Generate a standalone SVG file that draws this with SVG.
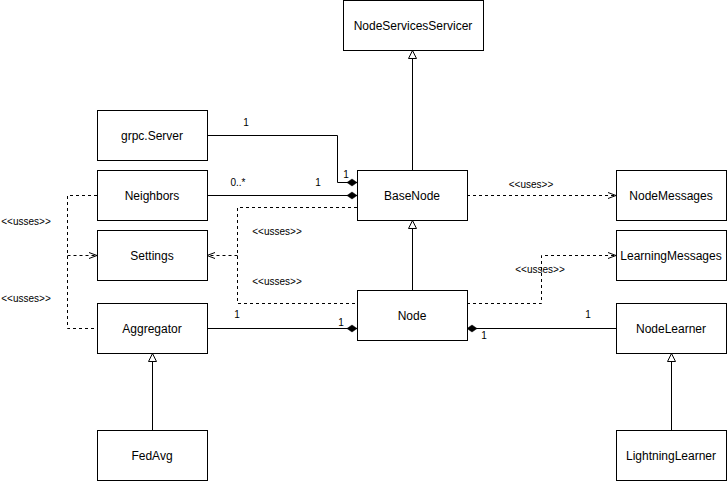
<svg xmlns="http://www.w3.org/2000/svg" width="727" height="481" viewBox="0 0 727 481">
<style>
.box{fill:#fff;stroke:#000;stroke-width:1}
.t{font-family:"Liberation Sans",Arial,sans-serif;font-size:12px;fill:#000;text-anchor:middle}
.l{font-family:"Liberation Sans",Arial,sans-serif;font-size:10px;fill:#000;text-anchor:middle}
.c{fill:none;stroke:#000;stroke-width:1}
.d{fill:none;stroke:#000;stroke-width:1;stroke-dasharray:3 3}
</style>
<defs>
<marker id="dia" viewBox="0 0 10 7" refX="10" refY="3.5" markerWidth="10" markerHeight="7" markerUnits="userSpaceOnUse" orient="auto" overflow="visible"><path d="M0,3.5 L5,0 L10,3.5 L5,7 Z" fill="#000" stroke="#000" stroke-width="0.5"/></marker>
<marker id="tri" viewBox="0 0 8 8" refX="8" refY="4" markerWidth="8" markerHeight="8" markerUnits="userSpaceOnUse" orient="auto" overflow="visible"><path d="M0,0 L8,4 L0,8 Z" fill="#fff" stroke="#000" stroke-width="1"/></marker>
<marker id="opn" viewBox="0 0 8 8" refX="8" refY="4" markerWidth="8" markerHeight="8" markerUnits="userSpaceOnUse" orient="auto" overflow="visible"><path d="M0,1 L8,4 L0,7" fill="none" stroke="#000" stroke-width="1"/></marker>
</defs>
<rect width="727" height="481" fill="#fff"/>
<g id="connectors">
<path class="c" d="M412.5,170 V50.5" marker-end="url(#tri)"/>
<path class="c" d="M412.5,290 V220.5" marker-end="url(#tri)"/>
<path class="c" d="M152.5,430 V353.5" marker-end="url(#tri)"/>
<path class="c" d="M671.5,430 V353.5" marker-end="url(#tri)"/>
<path class="c" d="M207,135.5 H337.5 V182.5 H357" marker-end="url(#dia)"/>
<path class="c" d="M207,195.5 H357" marker-end="url(#dia)"/>
<path class="c" d="M207,328.5 H357" marker-end="url(#dia)"/>
<path class="c" d="M616,328.5 H467" marker-end="url(#dia)"/>
<path class="d" d="M467,195.5 H616" marker-end="url(#opn)"/>
<path class="d" d="M467,303.5 H541.5 V255.5 H616" marker-end="url(#opn)"/>
<path class="d" d="M357,207.5 H237.5 V303.5 H357"/>
<path class="d" d="M237.5,255.5 H207" marker-end="url(#opn)"/>
<path class="d" d="M97,195.5 H67.5 V328.5 H97"/>
<path class="d" d="M67.5,255.5 H97" marker-end="url(#opn)"/>
<text class="l" x="246" y="126">1</text>
<text class="l" x="346" y="178">1</text>
<text class="l" x="238" y="186">0..*</text>
<text class="l" x="318" y="186">1</text>
<text class="l" x="531" y="188">&lt;&lt;uses&gt;&gt;</text>
<text class="l" x="540" y="273">&lt;&lt;usses&gt;&gt;</text>
<text class="l" x="277" y="235">&lt;&lt;usses&gt;&gt;</text>
<text class="l" x="277" y="285">&lt;&lt;usses&gt;&gt;</text>
<text class="l" x="26" y="225">&lt;&lt;usses&gt;&gt;</text>
<text class="l" x="26" y="302">&lt;&lt;usses&gt;&gt;</text>
<text class="l" x="237" y="318">1</text>
<text class="l" x="341" y="326">1</text>
<text class="l" x="588" y="318">1</text>
<text class="l" x="484" y="339">1</text>
</g>
<g id="NodeServicesServicer"><rect class="box" x="343.5" y="0.5" width="140" height="50"/><text class="t" x="413" y="30">NodeServicesServicer</text></g>
<g id="grpcServer"><rect class="box" x="97.5" y="110.5" width="110" height="50"/><text class="t" x="152" y="140">grpc.Server</text></g>
<g id="Neighbors"><rect class="box" x="97.5" y="170.5" width="110" height="50"/><text class="t" x="152" y="200">Neighbors</text></g>
<g id="Settings"><rect class="box" x="97.5" y="230.5" width="110" height="50"/><text class="t" x="152" y="260">Settings</text></g>
<g id="Aggregator"><rect class="box" x="97.5" y="303.5" width="110" height="50"/><text class="t" x="152" y="333">Aggregator</text></g>
<g id="FedAvg"><rect class="box" x="97.5" y="430.5" width="110" height="50"/><text class="t" x="152" y="460">FedAvg</text></g>
<g id="BaseNode"><rect class="box" x="357.5" y="170.5" width="110" height="50"/><text class="t" x="412" y="200">BaseNode</text></g>
<g id="Node"><rect class="box" x="357.5" y="290.5" width="110" height="50"/><text class="t" x="412" y="320">Node</text></g>
<g id="NodeMessages"><rect class="box" x="616.5" y="170.5" width="110" height="50"/><text class="t" x="671" y="200">NodeMessages</text></g>
<g id="LearningMessages"><rect class="box" x="616.5" y="230.5" width="110" height="50"/><text class="t" x="671" y="260">LearningMessages</text></g>
<g id="NodeLearner"><rect class="box" x="616.5" y="303.5" width="110" height="50"/><text class="t" x="671" y="333">NodeLearner</text></g>
<g id="LightningLearner"><rect class="box" x="616.5" y="430.5" width="110" height="50"/><text class="t" x="671" y="460">LightningLearner</text></g>
</svg>
